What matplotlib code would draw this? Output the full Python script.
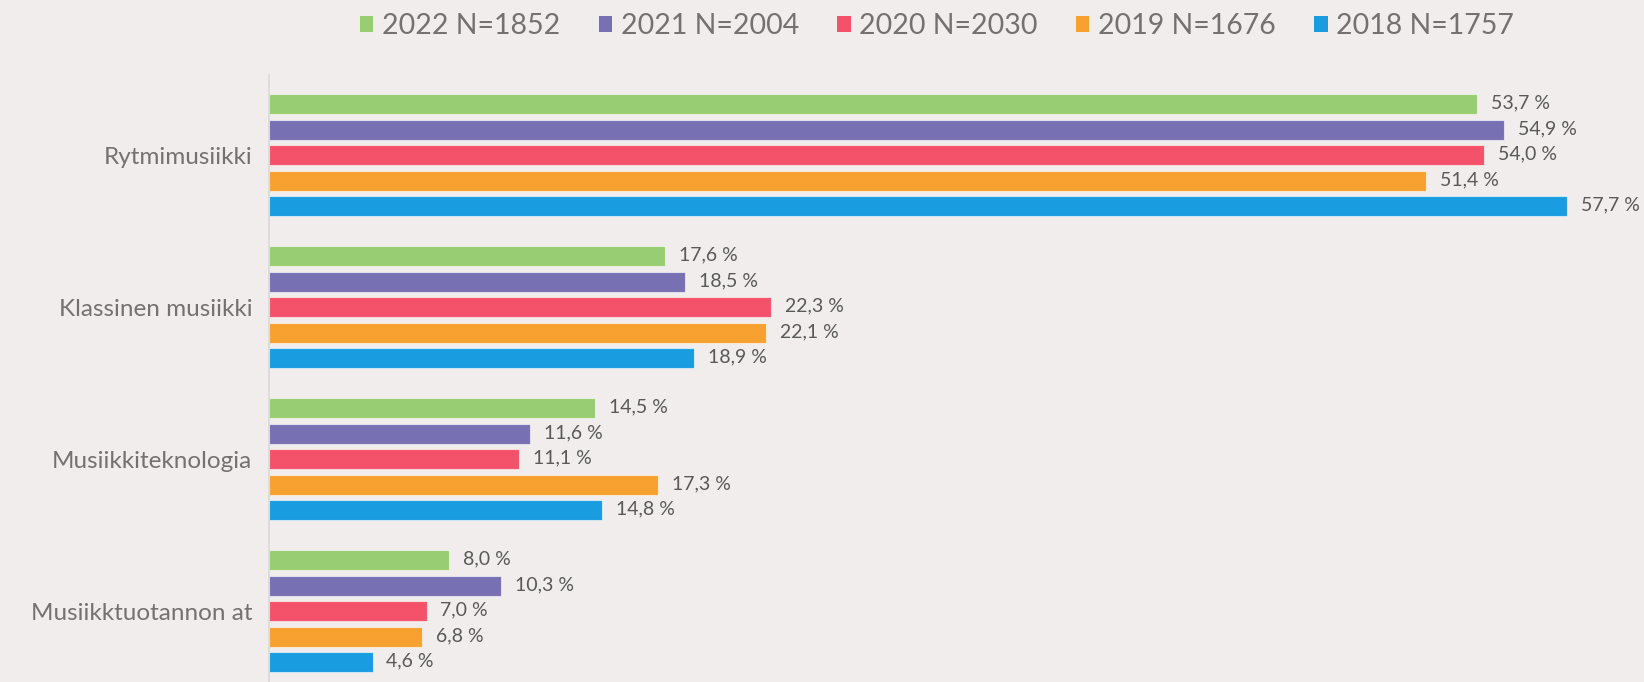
import matplotlib
matplotlib.use("Agg")
import matplotlib.pyplot as plt
from matplotlib.patches import Patch

plt.rcParams['font.family'] = ['Lato', 'DejaVu Sans']

categories = ["Rytmimusiikki", "Klassinen musiikki", "Musiikkiteknologia", "Musiikktuotannon at"]
series_names = ["2022 N=1852", "2021 N=2004", "2020 N=2030", "2019 N=1676", "2018 N=1757"]
v2022 = [53.7, 17.6, 14.5, 8.0]
v2021 = [54.9, 18.5, 11.6, 10.3]
v2020 = [54.0, 22.3, 11.1, 7.0]
v2019 = [51.4, 22.1, 17.3, 6.8]
v2018 = [57.7, 18.9, 14.8, 4.6]
series_values = [v2022, v2021, v2020, v2019, v2018]
colors = ["#99CD73", "#7770B3", "#F4526A", "#F9A130", "#1A9CE0"]

bg = "#F1EDEC"
W, H = 1644, 682
fig = plt.figure(figsize=(W / 100, H / 100), dpi=100, facecolor=bg)
ax_left, ax_top, ax_bot = 269, 75, 687
ax = fig.add_axes([ax_left / W, (H - ax_bot) / H, (W - ax_left) / W, (ax_bot - ax_top) / H])
ax.set_facecolor(bg)

group_pitch = 152
bar_pitch = 25.5
bar_h = 20
for j, (name, vals, c) in enumerate(zip(series_names, series_values, colors)):
    ys = [i * group_pitch + (j - 2) * bar_pitch for i in range(len(categories))]
    ax.barh(ys, vals, height=bar_h, color=c, edgecolor=(1, 1, 1, 0.6), linewidth=0.8)
    for y, v in zip(ys, vals):
        ax.annotate(f"{v:.1f} %".replace(".", ","), (v, y), xytext=(14, 1),
                    textcoords="offset pixels", va="center", ha="left",
                    fontsize=14, color="#595959")

ax.set_ylim(3 * group_pitch + 76, -80)
ax.set_xlim(0, (W - ax_left) / 22.5)
ax.set_yticks([i * group_pitch for i in range(len(categories))])
ax.set_yticklabels(categories, fontsize=17.5, color="#767171")
ax.tick_params(axis='y', length=0, pad=12)
ax.set_xticks([])
for s in ["top", "right", "bottom"]:
    ax.spines[s].set_visible(False)
ax.spines["left"].set_color("#D9D9D9")
ax.spines["left"].set_linewidth(1.2)

handles = [Patch(facecolor=c, edgecolor='none') for c in colors]
fig.legend(handles, series_names, loc="center", bbox_to_anchor=(937 / W, 1 - 26 / H),
           ncol=5, frameon=False, fontsize=20.5, labelcolor="#767171",
           handlelength=0.47, handleheight=0.47, handletextpad=0.3, columnspacing=1.35)

fig.savefig("out.png", dpi=100, facecolor=bg)
